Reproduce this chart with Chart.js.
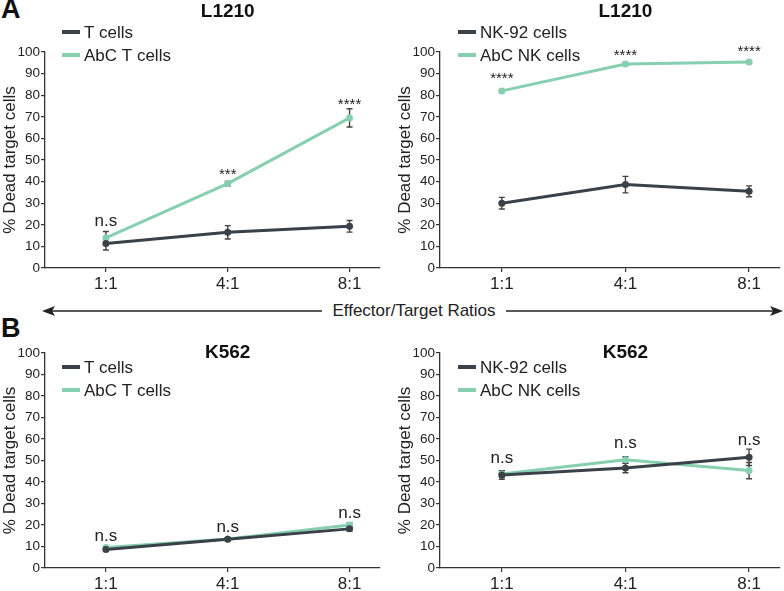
<!DOCTYPE html>
<html>
<head>
<meta charset="utf-8">
<script src="https://cdn.jsdelivr.net/npm/chart.js@4.4.0/dist/chart.umd.min.js"></script>
<style>
  body { margin: 0; background: #fff; font-family: "Liberation Sans", Arial, sans-serif; }
  #page { position: relative; width: 784px; height: 591px; overflow: hidden; }
  canvas { position: absolute; }
  .letter { position: absolute; font-weight: bold; font-size: 27px; color: #111; }
  #ratioText { position: absolute; left: 322px; top: 300px; width: 184px; text-align: center;
               font-size: 17px; color: #222; background: #fff; line-height: 22px; }
</style>
</head>
<body>
<div id="page">
  <div class="letter" style="left:1px; top:-6px;">A</div>
  <div class="letter" style="left:1px; top:313px;">B</div>
  <svg width="784" height="591" style="position:absolute; left:0; top:0;">
    <line x1="50" y1="311" x2="776" y2="311" stroke="#222" stroke-width="1.3"/>
    <polygon points="42,311 55,306 52,311 55,316" fill="#222"/>
    <polygon points="783,311 770,306 773,311 770,316" fill="#222"/>
  </svg>
  <div id="ratioText">Effector/Target Ratios</div>
  <canvas id="chartTL" width="390" height="300" style="left:0; top:0;"></canvas>
  <canvas id="chartTR" width="394" height="300" style="left:390px; top:0;"></canvas>
  <canvas id="chartBL" width="390" height="291" style="left:0; top:300px;"></canvas>
  <canvas id="chartBR" width="394" height="291" style="left:390px; top:300px;"></canvas>
</div>
<script>
// categories and ticks
const ratios = ['1:1', '4:1', '8:1'];
const yTickValues = [0, 10, 20, 30, 40, 50, 60, 70, 80, 90, 100];

// L1210 targets, T cells
const tCellsL1210 = [11.3, 16.5, 19.3];
const tCellsL1210Err = [3.0, 3.1, 2.7];
const abcTCellsL1210 = [13.9, 39.1, 69.5];
const abcTCellsL1210Err = [3.0, 1.0, 4.2];
const sigL1210T = ['n.s', '***', '****'];

// L1210 targets, NK cells
const nk92L1210 = [30.0, 38.6, 35.5];
const nk92L1210Err = [2.7, 3.8, 2.5];
const abcNkL1210 = [82.0, 94.4, 95.4];
const abcNkL1210Err = [0.5, 0.5, 0.5];
const sigL1210NK = ['****', '****', '****'];

// K562 targets, T cells
const tCellsK562 = [8.6, 13.4, 18.2];
const tCellsK562Err = [0.8, 0.6, 1.0];
const abcTCellsK562 = [9.5, 13.5, 20.0];
const abcTCellsK562Err = [0.8, 0.6, 1.0];
const sigK562T = ['n.s', 'n.s', 'n.s'];

// K562 targets, NK cells
const nk92K562 = [43.3, 46.5, 51.5];
const nk92K562Err = [2.0, 2.2, 3.8];
const abcNkK562 = [43.7, 50.3, 45.3];
const abcNkK562Err = [1.6, 1.5, 3.8];
const sigK562NK = ['n.s', 'n.s', 'n.s'];

const darkColor = '#3a4149';
const tealColor = '#86cfb0';
const fontName = '"Liberation Sans", Arial, sans-serif';

// draws error bars, significance labels, panel title and the legend
const decorPlugin = {
    id: 'decor',
    beforeDatasetsDraw(chart) {
        const ctx = chart.ctx;
        const xs = chart.scales.x, ys = chart.scales.y;
        ctx.save();
        ctx.strokeStyle = '#444';
        ctx.lineWidth = 1.4;
        chart.data.datasets.forEach(ds => {
            ds.data.forEach((pt, i) => {
                const e = ds.errors[i];
                const x = xs.getPixelForValue(pt.x);
                const yTop = ys.getPixelForValue(pt.y + e);
                const yBot = ys.getPixelForValue(pt.y - e);
                ctx.beginPath();
                ctx.moveTo(x, yTop); ctx.lineTo(x, yBot);
                ctx.moveTo(x - 3, yTop); ctx.lineTo(x + 3, yTop);
                ctx.moveTo(x - 3, yBot); ctx.lineTo(x + 3, yBot);
                ctx.stroke();
            });
        });
        ctx.restore();
    },
    afterDraw(chart, args, opts) {
        const ctx = chart.ctx;
        const xs = chart.scales.x, ys = chart.scales.y;
        const area = chart.chartArea;
        ctx.save();
        // significance marks above the highest error bar
        ctx.fillStyle = '#222';
        ctx.textAlign = 'center';
        ctx.textBaseline = 'alphabetic';
        opts.marks.forEach((m, i) => {
            let top = 0;
            chart.data.datasets.forEach(ds => {
                top = Math.max(top, ds.data[i].y + ds.errors[i]);
            });
            const x = xs.getPixelForValue(i);
            const y = ys.getPixelForValue(top) - opts.markGap[i];
            if (m === 'n.s') {
                ctx.font = '17px ' + fontName;
                ctx.fillText(m, x, y);
            } else {
                ctx.font = '15px ' + fontName;
                ctx.fillText(m, x, y + 4);
            }
        });
        // title over the middle category
        ctx.font = 'bold 19px ' + fontName;
        ctx.textBaseline = 'middle';
        ctx.fillStyle = '#111';
        ctx.fillText(opts.title, xs.getPixelForValue(1), opts.titleY);
        // legend
        ctx.textAlign = 'left';
        ctx.font = '17px ' + fontName;
        chart.data.datasets.forEach((ds, k) => {
            const y = opts.legendY + k * 23;
            const x0 = area.left + opts.legendX;
            ctx.fillStyle = ds.borderColor;
            ctx.fillRect(x0, y - 2, 18, 4);
            ctx.fillStyle = '#222';
            ctx.fillText(ds.label, x0 + 22, y + 1);
        });
        ctx.restore();
    }
};

const makeDataset = (label, values, errors, color) => ({
    label: label,
    data: values.map((v, i) => ({ x: i, y: v })),
    errors: errors,
    borderColor: color,
    backgroundColor: color,
    borderWidth: 3,
    pointRadius: 3.5,
    pointBorderWidth: 0,
    pointHoverRadius: 3.5,
    tension: 0
});

const makeChart = (id, datasets, decor, pad, yWidth, xHeight, titlePad) => {
    return new Chart(document.getElementById(id), {
        type: 'line',
        data: { datasets: datasets },
        plugins: [decorPlugin],
        options: {
            responsive: false,
            animation: false,
            layout: { padding: pad },
            plugins: {
                legend: { display: false },
                tooltip: { enabled: false },
                decor: decor
            },
            scales: {
                x: {
                    type: 'linear',
                    min: -0.5,
                    max: 2.25,
                    afterBuildTicks: (scale) => { scale.ticks = ratios.map((r, i) => ({ value: i })); },
                    afterFit: (scale) => { scale.height = xHeight; },
                    grid: { drawOnChartArea: false, tickLength: 4, color: '#333', lineWidth: 1.2 },
                    border: { color: '#333', width: 1.3 },
                    ticks: {
                        callback: (v) => ratios[v],
                        color: '#222',
                        padding: 2,
                        maxRotation: 0,
                        font: { family: fontName, size: 17 }
                    }
                },
                y: {
                    min: 0,
                    max: 100,
                    afterBuildTicks: (scale) => { scale.ticks = yTickValues.map(v => ({ value: v })); },
                    afterFit: (scale) => { scale.width = yWidth; },
                    grid: { drawOnChartArea: false, tickLength: 4, color: '#333', lineWidth: 1.2 },
                    border: { color: '#333', width: 1.3 },
                    ticks: {
                        color: '#222',
                        padding: 1,
                        font: { family: fontName, size: 13.5 }
                    },
                    title: {
                        display: true,
                        text: '% Dead target cells',
                        color: '#222',
                        padding: { top: titlePad, bottom: 0 },
                        font: { family: fontName, size: 17 }
                    }
                }
            }
        }
    });
};

makeChart('chartTL', [
    makeDataset('T cells', tCellsL1210, tCellsL1210Err, darkColor),
    makeDataset('AbC T cells', abcTCellsL1210, abcTCellsL1210Err, tealColor)
], { title: 'L1210', titleY: 12, legendX: 17, legendY: 32, marks: sigL1210T, markGap: [5, 6, 4] },
   { top: 52, right: 10, left: 0, bottom: 0 }, 45, 32, 0);

makeChart('chartTR', [
    makeDataset('NK-92 cells', nk92L1210, nk92L1210Err, darkColor),
    makeDataset('AbC NK cells', abcNkL1210, abcNkL1210Err, tealColor)
], { title: 'L1210', titleY: 12, legendX: 18, legendY: 32, marks: sigL1210NK, markGap: [11, 7, 9] },
   { top: 52, right: 4, left: 0, bottom: 0 }, 50, 32, 5);

makeChart('chartBL', [
    makeDataset('T cells', tCellsK562, tCellsK562Err, darkColor),
    makeDataset('AbC T cells', abcTCellsK562, abcTCellsK562Err, tealColor)
], { title: 'K562', titleY: 53, legendX: 17, legendY: 67, marks: sigK562T, markGap: [5, 6, 5] },
   { top: 53, right: 10, left: 0, bottom: 0 }, 45, 23, 0);

makeChart('chartBR', [
    makeDataset('NK-92 cells', nk92K562, nk92K562Err, darkColor),
    makeDataset('AbC NK cells', abcNkK562, abcNkK562Err, tealColor)
], { title: 'K562', titleY: 53, legendX: 18, legendY: 67, marks: sigK562NK, markGap: [8, 9, 4] },
   { top: 53, right: 4, left: 0, bottom: 0 }, 50, 23, 5);
</script>
</body>
</html>
